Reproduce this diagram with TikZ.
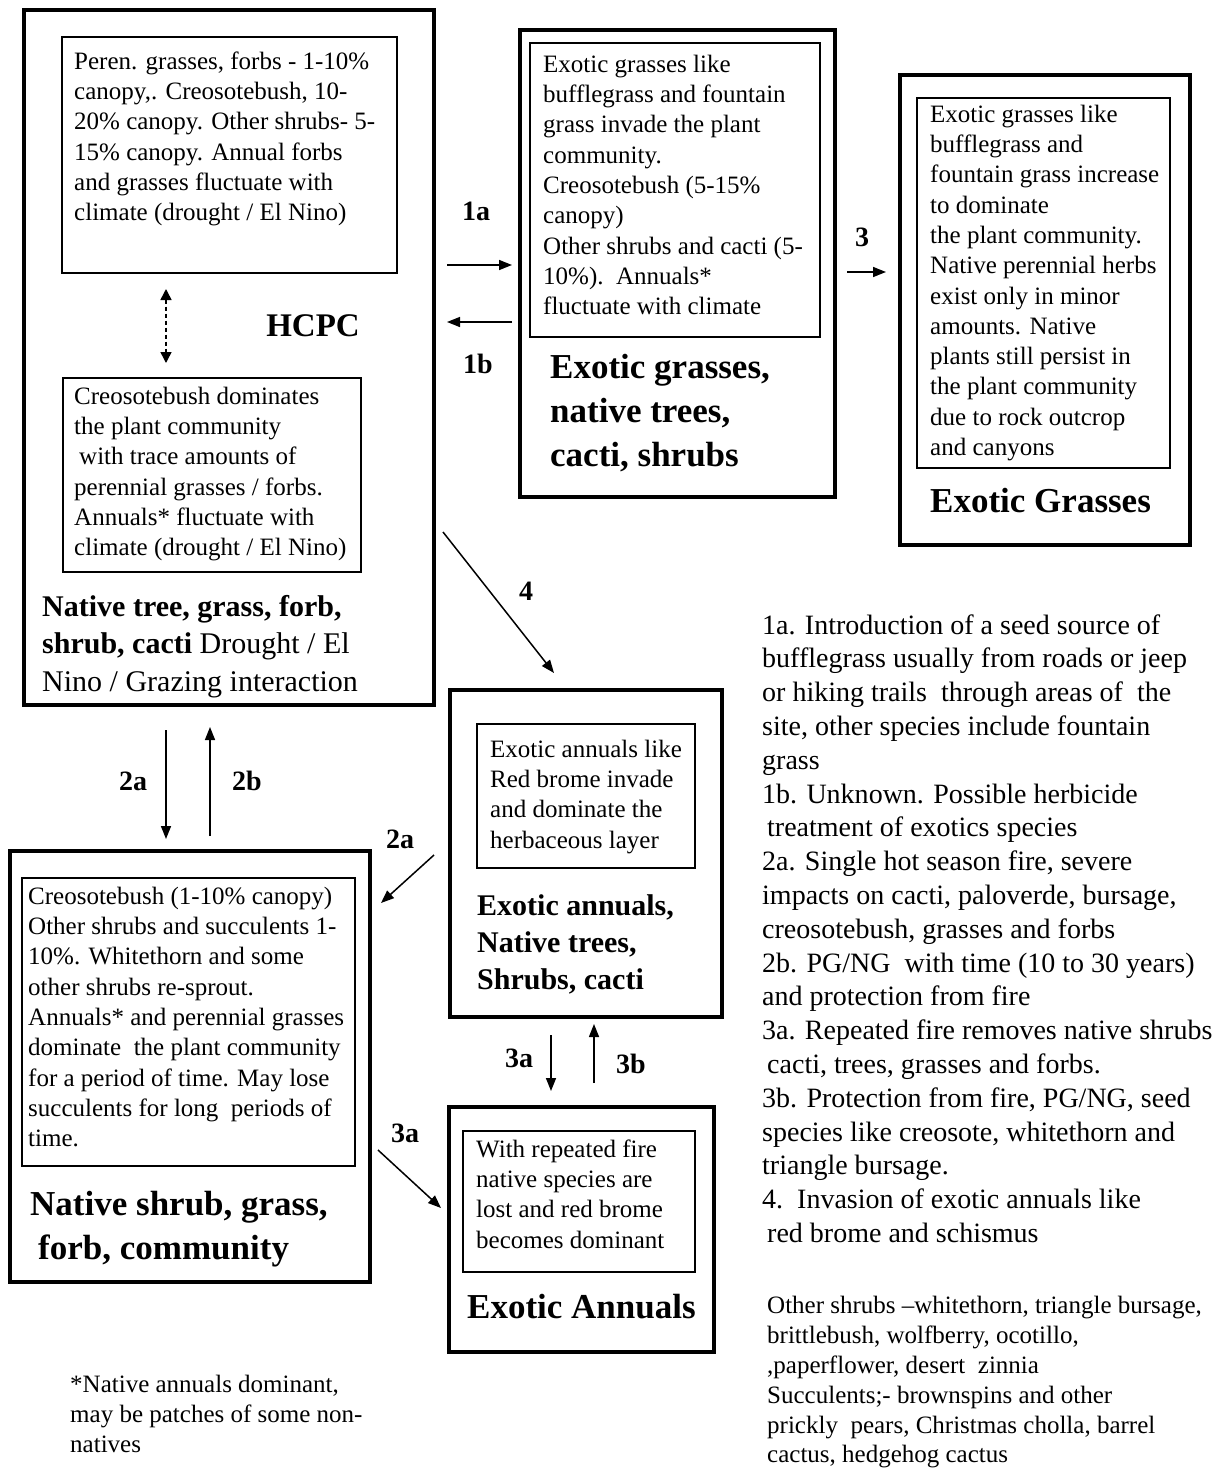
\documentclass[tikz,border=0pt]{standalone}
\usepackage{fontspec}
\setmainfont{Liberation Serif}
\usetikzlibrary{arrows.meta,fit}
\begin{document}
\begin{tikzpicture}[x=1pt,y=-1pt,
  outerbox/.style={draw, line width=4pt, inner sep=0pt},
  innerbox/.style={draw, line width=1.3pt, inner sep=0pt},
  body/.style={anchor=north west, inner sep=0pt, align=left, font=\fontsize{25}{30.3}\selectfont},
  side/.style={anchor=north west, inner sep=0pt, align=left, font=\fontsize{28}{33.8}\selectfont},
  biglbl/.style={anchor=north west, inner sep=0pt, align=left, font=\fontsize{35}{44}\selectfont\bfseries},
  midlbl/.style={anchor=north west, inner sep=0pt, align=left, font=\fontsize{30}{37.5}\selectfont},
  arrlbl/.style={anchor=base, inner sep=0pt, font=\fontsize{28}{34}\selectfont\bfseries},
  conn/.style={line width=1.5pt, -{Triangle[length=13pt,width=10pt]}},
]
\useasboundingbox[fill=white] (0,0) rectangle (1228,1472);

% ---- boxes ----
\node[outerbox, fit={(24,10) (434,705)}] (b1) {};
\node[innerbox, fit={(62,37) (397,273)}] (b1a) {};
\node[innerbox, fit={(63,378) (361,572)}] (b1b) {};
\node[outerbox, fit={(520,30) (835,497)}] (b2) {};
\node[innerbox, fit={(530,43) (820,337)}] (b2i) {};
\node[outerbox, fit={(900,75) (1190,545)}] (b3) {};
\node[innerbox, fit={(917,98) (1170,468)}] (b3i) {};
\node[outerbox, fit={(10,851) (370,1282)}] (b4) {};
\node[innerbox, fit={(22,878) (355,1166)}] (b4i) {};
\node[outerbox, fit={(450,690) (722,1017)}] (b5) {};
\node[innerbox, fit={(477,724) (695,868)}] (b5i) {};
\node[outerbox, fit={(449,1107) (714,1352)}] (b6) {};
\node[innerbox, fit={(463,1131) (695,1272)}] (b6i) {};

% ---- box texts ----
\node[body] (t1a) at (74,47.8) {\strut Peren. grasses, forbs - 1-10\%\\
canopy,. Creosotebush, 10-\\
20\% canopy. Other shrubs- 5-\\
15\% canopy. Annual forbs\\
and grasses fluctuate with\\
climate (drought / El Nino)};
\node[body] (t1b) at (74,382.8) {\strut Creosotebush dominates\\
the plant community\\
\hspace*{5pt}with trace amounts of\\
perennial grasses / forbs.\\
Annuals* fluctuate with\\
climate (drought / El Nino)};
\node[body] (t2) at (543,50.8) {\strut Exotic grasses like\\
bufflegrass and fountain\\
grass invade the plant\\
community.\\
Creosotebush (5-15\%\\
canopy)\\
Other shrubs and cacti (5-\\
10\%).\ \ Annuals*\\
fluctuate with climate};
\node[body] (t3) at (930,100.8) {\strut Exotic grasses like\\
bufflegrass and\\
fountain grass increase\\
to dominate\\
the plant community.\\
Native perennial herbs\\
exist only in minor\\
amounts. Native\\
plants still persist in\\
the plant community\\
due to rock outcrop\\
and canyons};
\node[body] (t4) at (28,882.8) {\strut Creosotebush (1-10\% canopy)\\
Other shrubs and succulents 1-\\
10\%. Whitethorn and some\\
other shrubs re-sprout.\\
Annuals* and perennial grasses\\
dominate\ \ the plant community\\
for a period of time. May lose\\
succulents for long\ \ periods of\\
time.};
\node[body] (t5) at (490,735.8) {\strut Exotic annuals like\\
Red brome invade\\
and dominate the\\
herbaceous layer};
\node[body] (t6) at (476,1135.8) {\strut With repeated fire\\
native species are\\
lost and red brome\\
becomes dominant};

% ---- box titles ----
\node[midlbl] (l1) at (42,589.75) {\strut{\bfseries Native tree, grass, forb,}\\
{\bfseries shrub, cacti} Drought / El\\
Nino / Grazing interaction};
\node[anchor=base, inner sep=0pt, font=\fontsize{33}{40}\selectfont\bfseries] (hcpc) at (313,336) {HCPC};
\node[biglbl] (l2) at (550,347.2) {\strut Exotic grasses,\\
native trees,\\
cacti, shrubs};
\node[anchor=base west, inner sep=0pt, font=\fontsize{35}{44}\selectfont\bfseries] (l3) at (930,512) {Exotic Grasses};
\node[biglbl] (l4) at (30,1184.2) {\strut Native shrub, grass,\\
\hspace*{8pt}forb, community};
\node[midlbl, font=\fontsize{30}{37}\selectfont\bfseries] (l5) at (477,888.9) {\strut Exotic annuals,\\
Native trees,\\
Shrubs, cacti};
\node[anchor=base west, inner sep=0pt, font=\fontsize{35}{44}\selectfont\bfseries] (l6) at (467,1318) {Exotic Annuals};

% ---- notes ----
\node[side] (notes) at (762,610.3) {\strut 1a. Introduction of a seed source of\\
bufflegrass usually from roads or jeep\\
or hiking trails\ \ through areas of\ \ the\\
site, other species include fountain\\
grass\\
1b. Unknown. Possible herbicide\\
\hspace*{5pt}treatment of exotics species\\
2a. Single hot season fire, severe\\
impacts on cacti, paloverde, bursage,\\
creosotebush, grasses and forbs\\
2b. PG/NG\ \ with time (10 to 30 years)\\
and protection from fire\\
3a. Repeated fire removes native shrubs\\
\hspace*{5pt}cacti, trees, grasses and forbs.\\
3b. Protection from fire, PG/NG, seed\\
species like creosote, whitethorn and\\
triangle bursage.\\
4.\ \ Invasion of exotic annuals like\\
\hspace*{5pt}red brome and schismus};
\node[body, font=\fontsize{25}{30}\selectfont] (foot) at (70,1370.8) {\strut *Native annuals dominant,\\
may be patches of some non-\\
natives};
\node[body, font=\fontsize{25}{29.8}\selectfont] (others) at (767,1292.8) {\strut Other shrubs –whitethorn, triangle bursage,\\
brittlebush, wolfberry, ocotillo,\\
,paperflower, desert\ \ zinnia\\
Succulents;- brownspins and other\\
prickly\ \ pears, Christmas cholla, barrel\\
cactus, hedgehog cactus};

% ---- arrow end points ----
\coordinate (p1as) at (447,265); \coordinate (p1ae) at (512,265);
\coordinate (p1bs) at (512,322); \coordinate (p1be) at (447,322);
\coordinate (p3s) at (847,272);  \coordinate (p3e) at (886,272);
\coordinate (p4s) at (443,532);  \coordinate (p4e) at (554,673);
\coordinate (p2as) at (166,730); \coordinate (p2ae) at (166,839);
\coordinate (p2bs) at (210,836); \coordinate (p2be) at (210,727);
\coordinate (p2cs) at (434,855); \coordinate (p2ce) at (381,903);
\coordinate (p3cs) at (378,1150); \coordinate (p3ce) at (441,1208);
\coordinate (p3as) at (551,1035); \coordinate (p3ae) at (551,1091);
\coordinate (p3bs) at (594,1083); \coordinate (p3be) at (594,1024);
\coordinate (pds) at (166,289); \coordinate (pde) at (166,363);

% ---- connectors ----
\draw[conn] (p1as) -- (p1ae);
\draw[conn] (p1bs) -- (p1be);
\draw[conn] (p3s) -- (p3e);
\draw[conn] (p4s) -- (p4e);
\draw[conn] (p2as) -- (p2ae);
\draw[conn] (p2bs) -- (p2be);
\draw[conn] (p2cs) -- (p2ce);
\draw[conn] (p3cs) -- (p3ce);
\draw[conn] (p3as) -- (p3ae);
\draw[conn] (p3bs) -- (p3be);
\draw[line width=1.5pt, dash pattern=on 4pt off 3pt,
  {Triangle[length=11pt,width=11pt]}-{Triangle[length=11pt,width=11pt]}] (pds) -- (pde);

% ---- connector labels ----
\node[arrlbl] (n1a) at (476,220) {1a};
\node[arrlbl] (n1b) at (478,373) {1b};
\node[arrlbl] (n3) at (862,246) {3};
\node[arrlbl] (n4) at (526,600) {4};
\node[arrlbl] (n2a) at (133,790) {2a};
\node[arrlbl] (n2b) at (247,790) {2b};
\node[arrlbl] (n2c) at (400,848) {2a};
\node[arrlbl] (n3c) at (405,1142) {3a};
\node[arrlbl] (n3a) at (519,1067) {3a};
\node[arrlbl] (n3b) at (631,1073) {3b};
\end{tikzpicture}
\end{document}
